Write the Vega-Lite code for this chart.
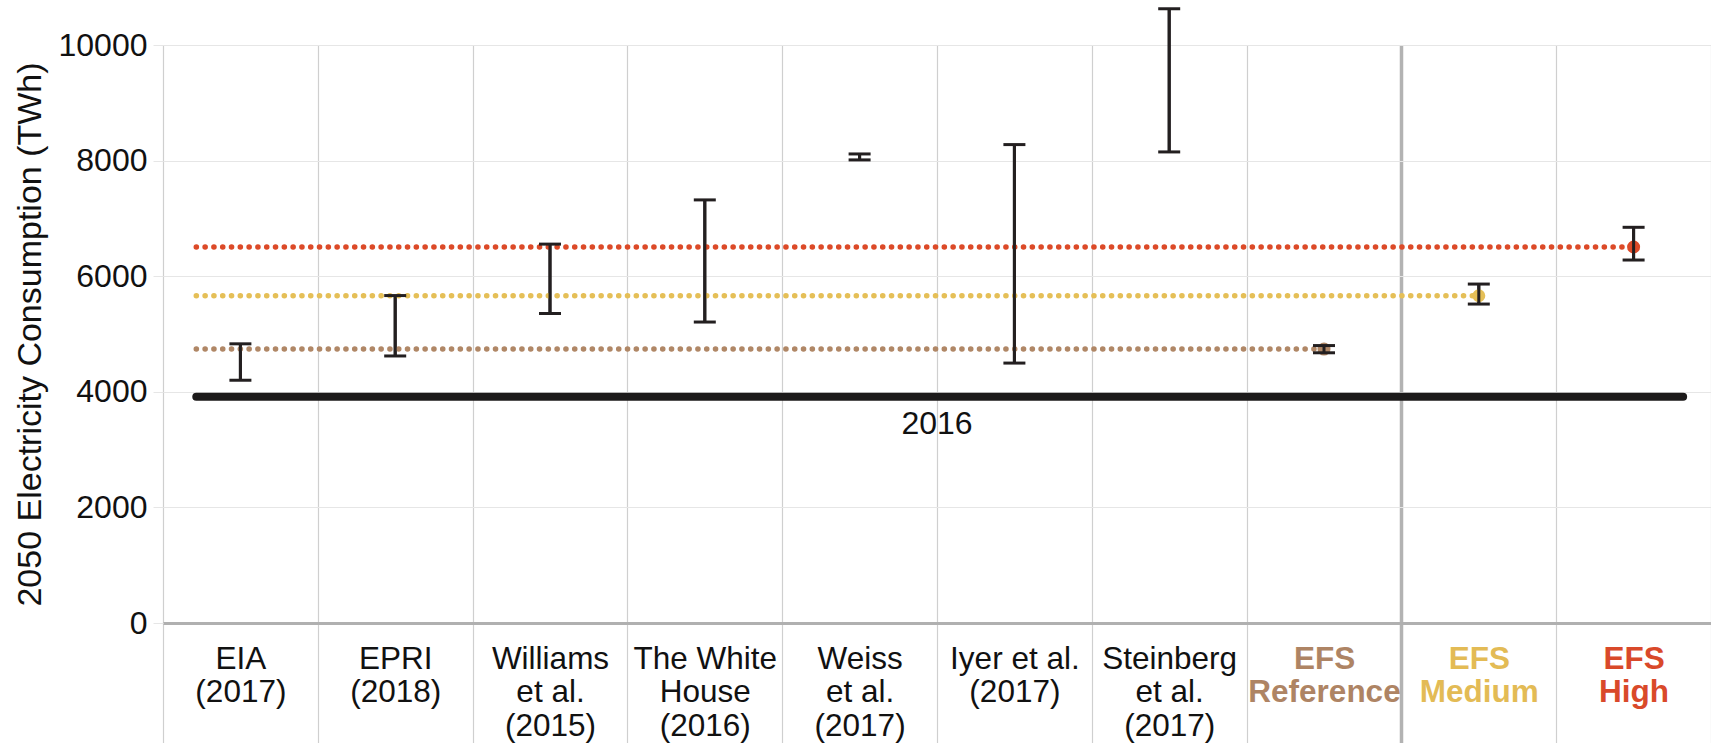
{
  "$schema": "https://vega.github.io/schema/vega-lite/v6.json",
  "autosize": "none",
  "width": 1548,
  "height": 578,
  "padding": {"left": 163, "top": 45, "right": 0, "bottom": 120},
  "background": "white",
  "config": {
    "view": {"stroke": null},
    "font": "Liberation Sans"
  },
  "datasets": {
    "studies": [
      {"study": "EIA|(2017)", "lo": 4200, "hi": 4830, "mid": null, "group": null},
      {"study": "EPRI|(2018)", "lo": 4620, "hi": 5665, "mid": null, "group": null},
      {"study": "Williams|et al.|(2015)", "lo": 5355, "hi": 6555, "mid": null, "group": null},
      {"study": "The White|House|(2016)", "lo": 5207, "hi": 7320, "mid": null, "group": null},
      {"study": "Weiss|et al.|(2017)", "lo": 8012, "hi": 8115, "mid": null, "group": null},
      {"study": "Iyer et al.|(2017)", "lo": 4497, "hi": 8277, "mid": null, "group": null},
      {"study": "Steinberg|et al.|(2017)", "lo": 8150, "hi": 10627, "mid": null, "group": null},
      {"study": "EFS|Reference", "lo": 4675, "hi": 4800, "mid": 4740, "group": "Reference"},
      {"study": "EFS|Medium", "lo": 5518, "hi": 5864, "mid": 5662, "group": "Medium"},
      {"study": "EFS|High", "lo": 6280, "hi": 6846, "mid": 6505, "group": "High"}
    ],
    "levels": [
      {"start": "EIA|(2017)", "end": "EFS|Reference", "value": 4740, "group": "Reference"},
      {"start": "EIA|(2017)", "end": "EFS|Medium", "value": 5662, "group": "Medium"},
      {"start": "EIA|(2017)", "end": "EFS|High", "value": 6505, "group": "High"}
    ],
    "base": [
      {"start": "EIA|(2017)", "end": "EFS|High", "value": 3915, "label": "2016", "labelAt": "Iyer et al.|(2017)"}
    ]
  },
  "layer": [
    {
      "data": {"name": "studies"},
      "mark": {"type": "rule", "strokeWidth": 3, "color": "#231f20", "clip": false},
      "encoding": {
        "x": {
          "field": "study",
          "type": "nominal",
          "sort": null,
          "scale": {
            "domain": ["EIA|(2017)", "EPRI|(2018)", "Williams|et al.|(2015)", "The White|House|(2016)", "Weiss|et al.|(2017)", "Iyer et al.|(2017)", "Steinberg|et al.|(2017)", "EFS|Reference", "EFS|Medium", "EFS|High"],
            "paddingInner": 0,
            "paddingOuter": 0
          },
          "axis": {
            "title": null,
            "orient": "bottom",
            "labelAngle": 0,
            "labelExpr": "split(datum.label, '|')",
            "labelFontSize": 31.5,
            "labelLineHeight": 33.5,
            "labelBaseline": "top",
            "labelPadding": -100,
            "labelColor": {"condition": [
              {"test": "datum.value === 'EFS|Reference'", "value": "#ae8464"},
              {"test": "datum.value === 'EFS|Medium'", "value": "#e3bb55"},
              {"test": "datum.value === 'EFS|High'", "value": "#d9492a"}
            ], "value": "#111111"},
            "labelFontWeight": {"condition": {"test": "datum.value === 'EFS|Reference' || datum.value === 'EFS|Medium' || datum.value === 'EFS|High'", "value": "bold"}, "value": "normal"},
            "labelLimit": 300,
            "tickBand": "extent",
            "ticks": true,
            "tickSize": 120,
            "tickColor": {"condition": {"test": "datum.value === 'EFS|Reference'", "value": "#b3b3b3"}, "value": "#cfcfcf"},
            "tickWidth": {"condition": {"test": "datum.value === 'EFS|Reference'", "value": 3.5}, "value": 1.2},
            "grid": true,
            "gridColor": {"condition": {"test": "datum.value === 'EFS|Reference'", "value": "#b3b3b3"}, "value": "#cfcfcf"},
            "gridWidth": {"condition": {"test": "datum.value === 'EFS|Reference'", "value": 3.5}, "value": 1.2},
            "domain": true,
            "domainColor": "#b0b0b0",
            "domainWidth": 3
          }
        },
        "y": {"field": "lo", "type": "quantitative", "scale": {"domain": [0, 10000], "nice": false},
          "axis": {
            "title": "2050 Electricity Consumption (TWh)",
            "orient": "left",
            "titleFontSize": 34,
            "titleFontWeight": "normal",
            "titleColor": "#111111",
            "titlePadding": 11,
            "values": [0, 2000, 4000, 6000, 8000, 10000],
            "format": "d",
            "labelFontSize": 32,
            "labelColor": "#111111",
            "labelPadding": 6,
            "ticks": true,
            "tickSize": 10,
            "tickColor": "#e6e6e6",
            "domain": false,
            "grid": true,
            "gridColor": "#e6e6e6",
            "gridWidth": 1.2
          }
        },
        "y2": {"field": "hi"}
      }
    },
    {
      "data": {"name": "levels"},
      "mark": {"type": "rule", "strokeWidth": 5.5, "strokeCap": "round", "strokeDash": [0.1, 8.7], "clip": false},
      "encoding": {
        "x": {"field": "start", "type": "nominal", "bandPosition": 0.215},
        "x2": {"field": "end", "bandPosition": 0.5},
        "y": {"field": "value", "type": "quantitative"},
        "color": {
          "field": "group",
          "type": "nominal",
          "scale": {"domain": ["Reference", "Medium", "High"], "range": ["#b08766", "#e5bf57", "#dc4a28"]},
          "legend": null
        }
      }
    },
    {
      "data": {"name": "base"},
      "mark": {"type": "rule", "strokeWidth": 8, "strokeCap": "round", "color": "#1c1a1a", "clip": false},
      "encoding": {
        "x": {"field": "start", "type": "nominal", "bandPosition": 0.215},
        "x2": {"field": "end", "bandPosition": 0.82},
        "y": {"field": "value", "type": "quantitative"}
      }
    },
    {
      "data": {"name": "base"},
      "mark": {"type": "text", "fontSize": 32, "color": "#111111", "baseline": "middle", "align": "center", "dy": 27},
      "encoding": {
        "x": {"field": "labelAt", "type": "nominal", "bandPosition": 0},
        "y": {"field": "value", "type": "quantitative"},
        "text": {"field": "label"}
      }
    },
    {
      "data": {"name": "studies"},
      "transform": [{"filter": "datum.mid != null"}],
      "mark": {"type": "point", "filled": true, "size": 170, "opacity": 1, "clip": false},
      "encoding": {
        "x": {"field": "study", "type": "nominal"},
        "y": {"field": "mid", "type": "quantitative"},
        "color": {"field": "group", "type": "nominal", "legend": null}
      }
    },
    {
      "data": {"name": "studies"},
      "mark": {"type": "rule", "strokeWidth": 3, "color": "#231f20", "clip": false},
      "encoding": {
        "x": {"field": "study", "type": "nominal"},
        "y": {"field": "lo", "type": "quantitative"},
        "y2": {"field": "hi"}
      }
    },
    {
      "data": {"name": "studies"},
      "mark": {"type": "tick", "size": 22, "thickness": 3, "color": "#231f20", "orient": "horizontal", "clip": false, "opacity": 1},
      "encoding": {
        "x": {"field": "study", "type": "nominal"},
        "y": {"field": "lo", "type": "quantitative"}
      }
    },
    {
      "data": {"name": "studies"},
      "mark": {"type": "tick", "size": 22, "thickness": 3, "color": "#231f20", "orient": "horizontal", "clip": false, "opacity": 1},
      "encoding": {
        "x": {"field": "study", "type": "nominal"},
        "y": {"field": "hi", "type": "quantitative"}
      }
    }
  ]
}
